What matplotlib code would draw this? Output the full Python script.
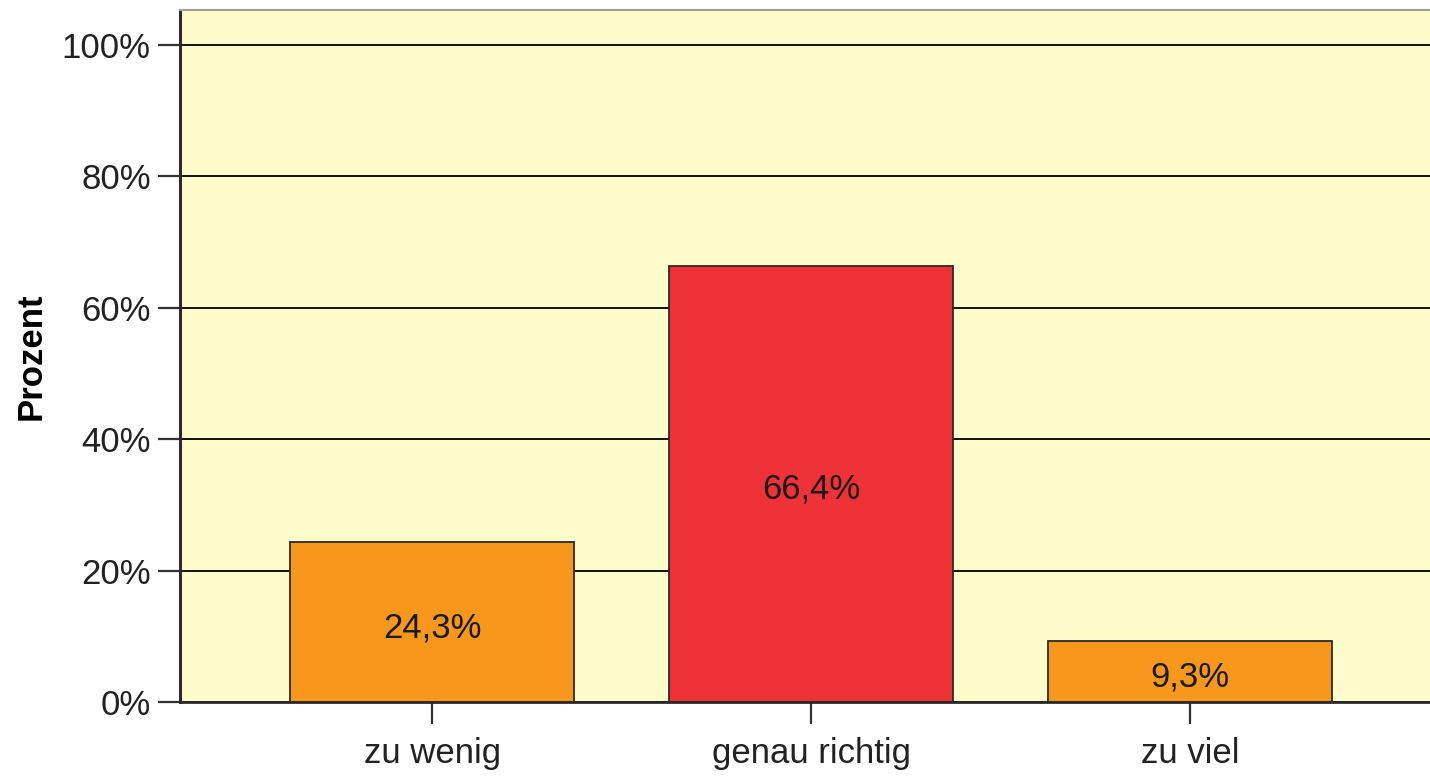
import matplotlib.pyplot as plt

# Datos
categorias = ["zu wenig", "genau richtig", "zu viel"]
prozent = [24.3, 66.4, 9.3]
etiquetas = ["24,3%", "66,4%", "9,3%"]
farben = ["#F7981D", "#EE3237", "#F7981D"]
yticks = [0, 20, 40, 60, 80, 100]
ytick_labels = ["0%", "20%", "40%", "60%", "80%", "100%"]

plt.rcParams['font.family'] = ['Liberation Sans', 'DejaVu Sans']

fig = plt.figure(figsize=(14.3, 7.76), dpi=100)
ax = fig.add_axes([0.1259, 0.0954, 1 - 0.1259, 0.9871 - 0.0954])
ax.set_facecolor("#FFFCCC")

x = list(range(len(categorias)))
ax.set_axisbelow(True)
ax.yaxis.grid(True, color="#111111", linewidth=1.4)
ax.bar(x, prozent, width=0.75, color=farben, edgecolor="#2a2a2a", linewidth=1.3, zorder=2)

# Etiquetas dentro de las barras
for xi, v, t in zip(x, prozent, etiquetas):
    ax.annotate(t, (xi, v / 2), xytext=(0, -4), textcoords="offset points",
                ha="center", va="center", fontsize=25, color="#1a1a1a", zorder=3)

ax.set_xlim(-0.665, 2.633)
ax.set_ylim(0, 105.3)
ax.set_xticks(x)
ax.set_xticklabels(categorias, fontsize=25, color="#222222")
ax.set_yticks(yticks)
ax.set_yticklabels(ytick_labels, fontsize=25, color="#222222")
ax.tick_params(axis="both", length=16, width=1.6, color="#333333", pad=5)
ax.tick_params(axis="x", pad=9)

ax.set_ylabel("Prozent", fontsize=25, fontweight="bold", labelpad=10)

ax.spines["right"].set_visible(False)
ax.spines["top"].set_color("#A0A090")
ax.spines["top"].set_linewidth(1.5)
ax.spines["left"].set_color("#2a2a2a")
ax.spines["left"].set_linewidth(2.2)
ax.spines["bottom"].set_color("#2a2a2a")
ax.spines["bottom"].set_linewidth(2.0)

plt.savefig("out.png", dpi=100)
